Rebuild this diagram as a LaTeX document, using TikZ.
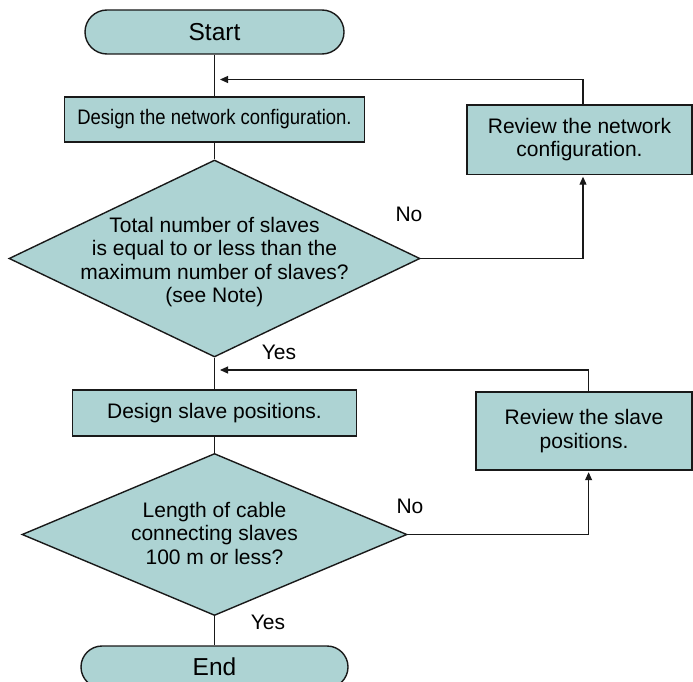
\documentclass[tikz,border=0pt]{standalone}
\usepackage{fontspec}
\setmainfont{Liberation Sans}
\newfontfamily\condfont[FakeStretch=0.88]{Liberation Sans}
\usetikzlibrary{shapes.geometric,shapes.misc,arrows.meta}
\definecolor{boxfill}{RGB}{173,211,211}
\begin{document}
\begin{tikzpicture}[x=1pt,y=-1pt,
  shapeborder/.style={draw=black!90, line width=1.4pt, fill=boxfill},
  term/.style={shapeborder, rounded rectangle, inner sep=0pt, font=\fontsize{24.5}{28}\selectfont},
  proc/.style={shapeborder, rectangle, inner sep=0pt, align=center, font=\fontsize{21}{23.5}\selectfont},
  dec/.style={shapeborder, diamond, inner sep=0pt},
  dectext/.style={align=center, inner sep=0pt, font=\fontsize{21}{23.5}\selectfont},
  lbl/.style={inner sep=0pt, font=\fontsize{21}{24}\selectfont},
  conn/.style={line width=1.1pt, draw=black!90},
  arr/.style={conn, -{Triangle[length=8pt,width=7pt]}}]
\useasboundingbox (0,0) rectangle (693,682);

% main column
\node[term, minimum width=259pt, minimum height=44pt] (start) at (214.5,32) {Start};
\node[proc, minimum width=300pt, minimum height=45pt, font=\condfont\fontsize{21}{23.5}\selectfont] (design1) at (214.5,119.5) {Design the network configuration.};
\node[dec, minimum width=411pt, minimum height=197pt] (dec1) at (214.5,258.5) {};
\node[dectext] (dec1text) at (214.5,262) {Total number of slaves\\is equal to or less than the\\maximum number of slaves?\\(see Note)};
\node[proc, minimum width=284pt, minimum height=46pt] (design2) at (214.5,413) {Design slave positions.};
\node[dec, minimum width=385pt, minimum height=162pt] (dec2) at (214.5,534.5) {};
\node[dectext] (dec2text) at (214.5,533) {Length of cable\\connecting slaves\\100 m or less?};
\node[term, minimum width=267pt, minimum height=42pt] (end) at (214.5,667) {End};

% review boxes
\node[proc, minimum width=225pt, minimum height=69.5pt] (rev1) at (579.5,139.75) {Review the network\\configuration.};
\node[proc, minimum width=216pt, minimum height=78pt] (rev2) at (584,431) {Review the slave\\positions.};

% labels
\node[lbl] (no1) at (409,214) {No};
\node[lbl] (yes1) at (279,352) {Yes};
\node[lbl] (no2) at (410,506) {No};
\node[lbl] (yes2) at (268,622) {Yes};

% helper coordinates
\coordinate (c1) at (583,79.5);
\coordinate (t1) at (220,79.5);
\coordinate (c2) at (588.6,370);
\coordinate (t2) at (220,370);

% main connectors
\draw[conn] (start.south) -- (design1.north);
\draw[conn] (design1.south) -- (dec1.north);
\draw[conn] (dec1.south) -- (design2.north);
\draw[conn] (design2.south) -- (dec2.north);
\draw[conn] (dec2.south) -- (end.north);

% loop 1
\draw[arr, shorten >=1.5pt] (dec1.east) -| (c1 |- rev1.south);
\draw[arr] (c1 |- rev1.north) -- (c1) -- (t1);

% loop 2
\draw[arr, shorten >=1.5pt] (dec2.east) -| (c2 |- rev2.south);
\draw[arr] (c2 |- rev2.north) -- (c2) -- (t2);
\end{tikzpicture}
\end{document}
